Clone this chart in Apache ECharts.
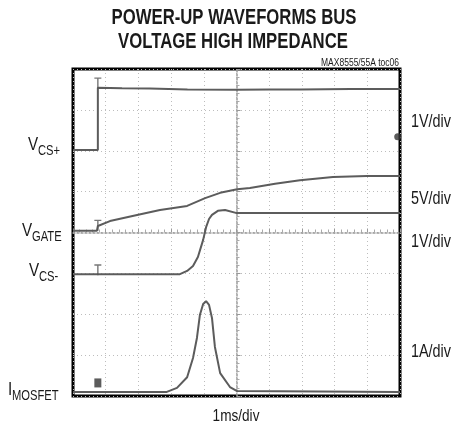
<!DOCTYPE html>
<html>
<head>
<meta charset="utf-8">
<script src="https://cdn.jsdelivr.net/npm/echarts@6/dist/echarts.min.js"></script>
<style>
  html, body { margin: 0; padding: 0; background: #fff; }
  #chart { width: 451px; height: 425px; }
</style>
</head>
<body>
<div id="chart"></div>
<script>
// scope screen: x in ms (1ms/div, 10 div), y in divisions (8 div)
const vcsPlus = [[0, 6.02], [0.76, 6.02], [0.76, 7.54], [1.5, 7.53], [2.35, 7.52], [3.5, 7.50],
  [4.98, 7.49], [6.0, 7.50], [6.94, 7.50], [8.5, 7.51], [10, 7.51]];
const vGate = [[0, 4.04], [0.73, 4.04], [0.76, 4.16], [1.13, 4.28], [1.96, 4.43], [2.66, 4.55],
  [3.49, 4.65], [4.04, 4.84], [4.5, 4.97], [5.02, 5.06], [5.41, 5.09], [6.18, 5.19],
  [6.94, 5.28], [7.95, 5.36], [8.99, 5.38], [10, 5.38]];
const vcsMinus = [[0, 2.98], [0.76, 2.98], [3.27, 2.98], [3.49, 3.06], [3.67, 3.18], [3.82, 3.40],
  [3.98, 3.82], [4.07, 4.13], [4.16, 4.33], [4.25, 4.43], [4.43, 4.53], [4.65, 4.55],
  [4.98, 4.48], [5.72, 4.48], [10, 4.48]];
const iMosfet = [[0, 0.10], [2.87, 0.10], [3.18, 0.20], [3.49, 0.46], [3.67, 0.93], [3.79, 1.42],
  [3.88, 1.98], [3.98, 2.25], [4.07, 2.32], [4.16, 2.23], [4.25, 1.91], [4.34, 1.20],
  [4.50, 0.56], [4.80, 0.22], [5.02, 0.12], [10, 0.10]];
// ground / trigger markers
const groundMarks = [[0.76, 7.66], [0.76, 4.18], [0.76, 3.09]];
const chanMark = [[0.76, 0.32]];
const trigMark = [[9.93, 6.34]];

const leftLabels = [
  { main: 'V', sub: 'CS+', x: 28, y: 145 },
  { main: 'V', sub: 'GATE', x: 22, y: 231 },
  { main: 'V', sub: 'CS-', x: 29, y: 271 },
  { main: 'I', sub: 'MOSFET', x: 8, y: 390 }
];
const scaleLabels = [['1V/div', 122], ['5V/div', 199], ['1V/div', 242], ['1A/div', 352]];

const sans = '"Liberation Sans", Arial, sans-serif';
const squeeze = 0.8;
const traceColor = '#5c5c5c';

const chart = echarts.init(document.getElementById('chart'));

function trace(name, data) {
  return {
    name: name, type: 'line', data: data, showSymbol: false, silent: true,
    lineStyle: { color: traceColor, width: 2 }, z: 5
  };
}

// narrow text: no condensed face installed, so squeeze a regular one
function label(text, x, y, font, align, vAlign, sx) {
  return { type: 'text', x: x, y: y, scaleX: sx || squeeze,
    style: { text: text, font: font, fill: '#1a1a1a',
      align: align, textAlign: align, verticalAlign: vAlign, textVerticalAlign: vAlign } };
}

const graphics = [];
graphics.push(label('POWER-UP WAVEFORMS BUS', 234, 18, 'bold 22px ' + sans, 'center', 'middle', 0.76));
graphics.push(label('VOLTAGE HIGH IMPEDANCE', 233, 42, 'bold 22px ' + sans, 'center', 'middle', 0.76));
graphics.push(label('MAX8555/55A toc06', 399, 63, '10px ' + sans, 'right', 'middle', 0.85));
graphics.push(label('1ms/div', 236, 416, '17px ' + sans, 'center', 'middle'));
leftLabels.forEach(function (l) {
  graphics.push(label(l.main, l.x, l.y, '19px ' + sans, 'left', 'middle'));
  graphics.push(label(l.sub, l.x + (l.main === 'V' ? 10 : 4), l.y + 6, '14px ' + sans, 'left', 'middle'));
});
scaleLabels.forEach(function (s) {
  graphics.push(label(s[0], 411, s[1], '18px ' + sans, 'left', 'middle'));
});

const option = {
  backgroundColor: '#fff',
  animation: false,
  grid: { left: 73, top: 69, width: 327, height: 327, show: true,
    borderColor: '#000', borderWidth: 3, backgroundColor: '#fff' },
  xAxis: [
    { type: 'value', min: 0, max: 10, interval: 1,
      axisLine: { show: false }, axisTick: { show: false }, axisLabel: { show: false },
      splitLine: { show: true, lineStyle: { color: '#bdbdbd', type: [1, 3], width: 1 } } },
    { type: 'value', min: 0, max: 10, interval: 1, position: 'bottom', offset: -163.5,
      axisLine: { show: true, lineStyle: { color: '#9a9a9a', width: 1.5, type: [2, 2] } },
      axisTick: { show: true, inside: true, length: 4, lineStyle: { color: '#999' } },
      minorTick: { show: true, splitNumber: 5, length: 3, lineStyle: { color: '#aaa' } },
      axisLabel: { show: false }, splitLine: { show: false } }
  ],
  yAxis: [
    { type: 'value', min: 0, max: 8, interval: 1,
      axisLine: { show: false }, axisTick: { show: false }, axisLabel: { show: false },
      splitLine: { show: true, lineStyle: { color: '#bdbdbd', type: [1, 3], width: 1 } } },
    { type: 'value', min: 0, max: 8, interval: 1, position: 'left', offset: -163.5,
      axisLine: { show: true, lineStyle: { color: '#9a9a9a', width: 1.5, type: [2, 2] } },
      axisTick: { show: true, inside: true, length: 4, lineStyle: { color: '#999' } },
      minorTick: { show: true, splitNumber: 5, length: 3, lineStyle: { color: '#aaa' } },
      axisLabel: { show: false }, splitLine: { show: false } }
  ],
  series: [
    trace('VCS+', vcsPlus),
    trace('VGATE', vGate),
    trace('VCS-', vcsMinus),
    trace('IMOSFET', iMosfet),
    { type: 'scatter', data: groundMarks, silent: true, z: 6,
      symbol: 'path://M0,0H8V1.6H4.8V12H3.2V1.6H0Z', symbolSize: [7, 11],
      itemStyle: { color: '#555' } },
    { type: 'scatter', data: chanMark, silent: true, z: 6,
      symbol: 'rect', symbolSize: [7, 9], itemStyle: { color: '#333' } },
    { type: 'scatter', data: trigMark, silent: true, z: 6,
      symbol: 'circle', symbolSize: 7, itemStyle: { color: '#333' } }
  ],
  graphic: graphics
};
chart.setOption(option);
</script>
</body>
</html>
